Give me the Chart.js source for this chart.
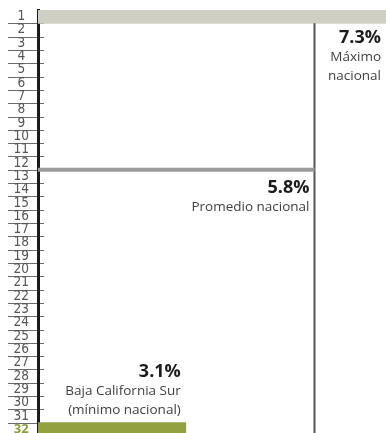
<!DOCTYPE html>
<html lang="es">
<head>
<meta charset="utf-8">
<script src="https://cdn.jsdelivr.net/npm/chart.js@4/dist/chart.umd.min.js"></script>
<style>
  html, body { margin: 0; padding: 0; background: #fff; overflow: hidden; }
  canvas { display: block; }
</style>
</head>
<body>
<canvas id="rankingChart" width="386" height="436"></canvas>
<script>
// posiciones de las entidades (1 = máximo, 32 = mínimo)
const posiciones = ["1", "2", "3", "4", "5", "6", "7", "8", "9", "10", "11", "12", "13", "14", "15", "16",
  "17", "18", "19", "20", "21", "22", "23", "24", "25", "26", "27", "28", "29", "30", "31", "32"];
const tasas = [7.3, null, null, null, null, null, null, null, null, null, null, null, null, null, null, null,
  null, null, null, null, null, null, null, null, null, null, null, null, null, null, null, 3.1];
const coloresBarra = ["#cfd0c3", "", "", "", "", "", "", "", "", "", "", "", "", "", "", "",
  "", "", "", "", "", "", "", "", "", "", "", "", "", "", "", "#93a23e"];
const promedioNacional = 5.8;
const tasaMaxima = 7.3;
const tasaMinima = 3.1;

// el promedio cae entre la posición 12 y la 13
const posicionPromedio = 12.5;

// subrayado gris de cada etiqueta del eje
const subrayadoEtiquetas = {
  id: "subrayadoEtiquetas",
  beforeDraw: function (chart) {
    let ctx = chart.ctx;
    let scale = chart.scales.y;
    let alto = scale.height / posiciones.length;
    ctx.save();
    ctx.strokeStyle = "#6b6b6b";
    ctx.lineWidth = 1;
    for (let i = 0; i < posiciones.length; i++) {
      let y = Math.round(scale.getPixelForValue(i) + alto / 2) + 0.5;
      ctx.beginPath();
      ctx.moveTo(8, y);
      ctx.lineTo(chart.chartArea.left + 6, y);
      ctx.stroke();
    }
    ctx.restore();
  },
};

// textos de máximo, promedio y mínimo
const textosValores = {
  id: "textosValores",
  afterDatasetsDraw: function (chart) {
    let ctx = chart.ctx;
    let x = chart.scales.x;
    let y = chart.scales.y2;
    let fuerte = "bold 18px 'Open Sans', sans-serif";
    let normal = "13.5px 'Open Sans', sans-serif";

    function bloque(valor, yBase, lineas) {
      let xd = Math.min(x.getPixelForValue(valor) - 5, chart.chartArea.right - 3);
      ctx.textAlign = "right";
      ctx.textBaseline = "alphabetic";
      ctx.font = fuerte;
      ctx.fillStyle = "#1c1c1c";
      ctx.fillText(valor.toFixed(1) + "%", xd, yBase);
      ctx.font = normal;
      ctx.fillStyle = "#3f3f3f";
      lineas.forEach(function (t, i) {
        ctx.fillText(t, xd, yBase + 18 + i * 19);
      });
    }

    ctx.save();
    bloque(tasaMaxima, y.getPixelForValue(1.5) + 20, ["Máximo", "nacional"]);
    bloque(promedioNacional, y.getPixelForValue(posicionPromedio) + 23, ["Promedio nacional"]);
    bloque(tasaMinima, y.getPixelForValue(31.5) - 46, ["Baja California Sur", "(mínimo nacional)"]);
    ctx.restore();
  },
};

let ctx = document.getElementById("rankingChart").getContext("2d");

new Chart(ctx, {
  type: "bar",
  data: {
    labels: posiciones,
    datasets: [
      {
        type: "line",
        data: [
          { x: 0, y: posicionPromedio },
          { x: promedioNacional, y: posicionPromedio },
        ],
        yAxisID: "y2",
        borderColor: "#9a9a9a",
        borderWidth: 4,
        borderCapStyle: "butt",
        pointRadius: 0,
      },
      {
        type: "line",
        data: [
          { x: promedioNacional, y: 1.5 },
          { x: promedioNacional, y: 32.5 },
        ],
        yAxisID: "y2",
        borderColor: "#555555",
        borderWidth: 2,
        borderCapStyle: "butt",
        pointRadius: 0,
      },
      {
        data: tasas,
        yAxisID: "y",
        backgroundColor: coloresBarra,
        barPercentage: 1,
        categoryPercentage: 1,
        grouped: false,
      },
    ],
  },
  options: {
    indexAxis: "y",
    responsive: false,
    animation: false,
    layout: { padding: { top: 10, right: 0, bottom: 0, left: 0 } },
    plugins: {
      legend: { display: false },
      tooltip: { enabled: false },
    },
    scales: {
      x: {
        display: false,
        min: 0,
        max: tasaMaxima,
      },
      y: {
        position: "left",
        afterFit: function (scale) {
          scale.width = 38;
          scale.paddingTop = 0;
          scale.paddingBottom = 0;
        },
        grid: { display: false, drawTicks: false },
        border: { display: true, color: "#1a1a1a", width: 3 },
        ticks: {
          crossAlign: "center",
          padding: 9,
          autoSkip: false,
          color: function (c) {
            return c.index === posiciones.length - 1 ? "#8d9c35" : "#555555";
          },
          font: function (c) {
            return c.index === posiciones.length - 1
              ? { family: "'Open Sans', sans-serif", size: 13, weight: "bold" }
              : { family: "'Liberation Sans Narrow', 'DejaVu Sans Condensed', sans-serif", size: 13.5 };
          },
        },
      },
      y2: {
        type: "linear",
        display: false,
        offset: false,
        reverse: true,
        min: 0.5,
        max: 32.5,
      },
    },
  },
  plugins: [subrayadoEtiquetas, textosValores],
});
</script>
</body>
</html>
